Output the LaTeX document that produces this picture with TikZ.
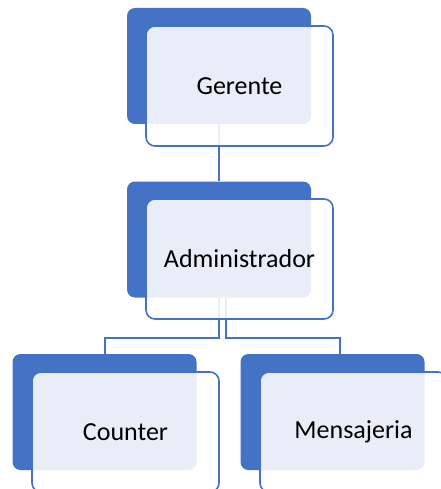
\documentclass[tikz,border=0pt]{standalone}
\usepackage{fontspec}
\setmainfont{Carlito}
\usetikzlibrary{calc}
\definecolor{acc}{HTML}{4472C4}
\tikzset{
  backbox/.style={draw=none, fill=acc, rounded corners=8pt, minimum width=184pt, minimum height=116pt, inner sep=0pt},
  frontbox/.style={draw=acc, line width=1.6pt, fill=white, fill opacity=0.88, rounded corners=9pt, minimum width=187pt, minimum height=120pt, inner sep=0pt},
  lbl/.style={font=\fontsize{26}{30}\selectfont, text=black},
  conn/.style={draw=acc, line width=2pt}
}
\begin{document}
\begin{tikzpicture}[x=1pt,y=-1pt]
\useasboundingbox (0,0) rectangle (440,489);
% back boxes
\node[backbox] (gb) at (219,66) {};
\node[backbox] (ab) at (219,239.5) {};
\node[backbox] (cb) at (104.5,412) {};
\node[backbox] (mb) at (332.5,412) {};
% connectors
\draw[conn] (gb.south) -- (ab.north);
\draw[conn] (ab.south) -- ++(0,40) -| (cb.north);
\coordinate (as2) at ($(ab.south)+(7,0)$);
\coordinate (mt) at ($(mb.north)+(7.5,0)$);
\draw[conn] (as2) -- ++(0,40) -| (mt);
% front boxes
\node[frontbox] (gf) at (239.5,86) {};
\node[frontbox] (af) at (239.5,259) {};
\node[frontbox] (cf) at (125.5,432) {};
\node[frontbox] (mf) at (353.5,432) {};
% labels
\node[lbl] (gt) at (gf.center) {Gerente};
\node[lbl] (at) at (af.center) {Administrador};
\node[lbl] (ct) at (cf.center) {Counter};
\node[lbl] (mt2) at (mf.center) {Mensajeria};
\end{tikzpicture}
\end{document}
